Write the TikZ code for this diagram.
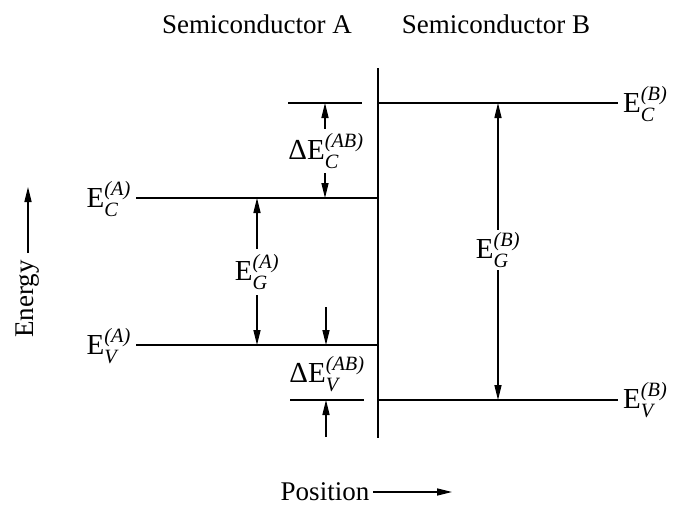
\documentclass[tikz,border=0pt]{standalone}
\usepackage{amsmath}
\usepackage{fontspec}
\setmainfont{Liberation Serif}
\usetikzlibrary{arrows.meta}
\newcommand\lvl[2]{E$^{\textit{(#2)}}_{\textit{#1}}$}
\newcommand\dlvl[1]{\textup{Δ}E$^{\textit{(AB)}}_{\textit{#1}}$}
\begin{document}
\begin{tikzpicture}[x=1pt,y=-1pt,
  lev/.style={line width=1.5pt},
  iface/.style={line width=1.8pt},
  arr/.style={-{Triangle[length=15pt,width=7pt]}, line width=1.3pt},
  txt/.style={font=\fontsize{27}{30}\selectfont, inner sep=0pt},
  lab/.style={font=\fontsize{29}{32}\selectfont, inner sep=2pt}]
\useasboundingbox (0,0) rectangle (673,506);
% titles
\node[txt] (tA) at (257,24) {Semiconductor A};
\node[txt] (tB) at (496,24) {Semiconductor B};
% interface
\coordinate (it) at (378,68);
\coordinate (ib) at (378,438);
\draw[iface] (it) -- (ib);
% levels
\coordinate (eca1) at (136,198); \coordinate (eca2) at (378,198);
\coordinate (eva1) at (136,345); \coordinate (eva2) at (378,345);
\coordinate (ecb1) at (378,103); \coordinate (ecb2) at (618,103);
\coordinate (evb1) at (378,400); \coordinate (evb2) at (618,400);
\coordinate (st1) at (288,103); \coordinate (st2) at (362,103);
\coordinate (sb1) at (290,400); \coordinate (sb2) at (364,400);
\draw[lev] (eca1) -- (eca2);
\draw[lev] (eva1) -- (eva2);
\draw[lev] (ecb1) -- (ecb2);
\draw[lev] (evb1) -- (evb2);
\draw[lev] (st1) -- (st2);
\draw[lev] (sb1) -- (sb2);
% level labels
\node[lab, anchor=east] (lECA) at (133,199) {\lvl{C}{A}};
\node[lab, anchor=east] (lEVA) at (133,346) {\lvl{V}{A}};
\node[lab, anchor=west] (lECB) at (621,104) {\lvl{C}{B}};
\node[lab, anchor=west] (lEVB) at (621,400) {\lvl{V}{B}};
% gap A
\node[lab, inner sep=5pt] (egA) at (257,272) {\lvl{G}{A}};
\coordinate (gA1) at (257,198); \coordinate (gA2) at (257,345);
\draw[arr] (egA) -- (gA1);
\draw[arr] (egA) -- (gA2);
% gap B
\node[lab, inner sep=2pt] (egB) at (498,250) {\lvl{G}{B}};
\coordinate (gB1) at (498,103); \coordinate (gB2) at (498,400);
\draw[arr] (egB) -- (gB1);
\draw[arr] (egB) -- (gB2);
% Delta E_C
\node[lab, inner sep=4pt] (dC) at (326,151) {\dlvl{C}};
\coordinate (dCt) at (325,103); \coordinate (dCb) at (325,198);
\draw[arr] (dC.north -| dCt) -- (dCt);
\draw[arr] (dC.south -| dCb) -- (dCb);
% Delta E_V
\node[lab] (dV) at (327,374) {\dlvl{V}};
\coordinate (vs1) at (326,307); \coordinate (vt1) at (326,345);
\coordinate (vs2) at (326,437); \coordinate (vt2) at (326,400);
\draw[arr] (vs1) -- (vt1);
\draw[arr] (vs2) -- (vt2);
% axes
\node[txt, rotate=90, inner sep=7pt] (en) at (28,299) {Energy};
\coordinate (enT) at (28,187);
\draw[arr] (en.east) -- (enT);
\node[txt, inner sep=4pt] (pos) at (325,492) {Position};
\coordinate (posT) at (452,492);
\draw[arr] (pos.east) -- (posT);
\end{tikzpicture}
\end{document}
